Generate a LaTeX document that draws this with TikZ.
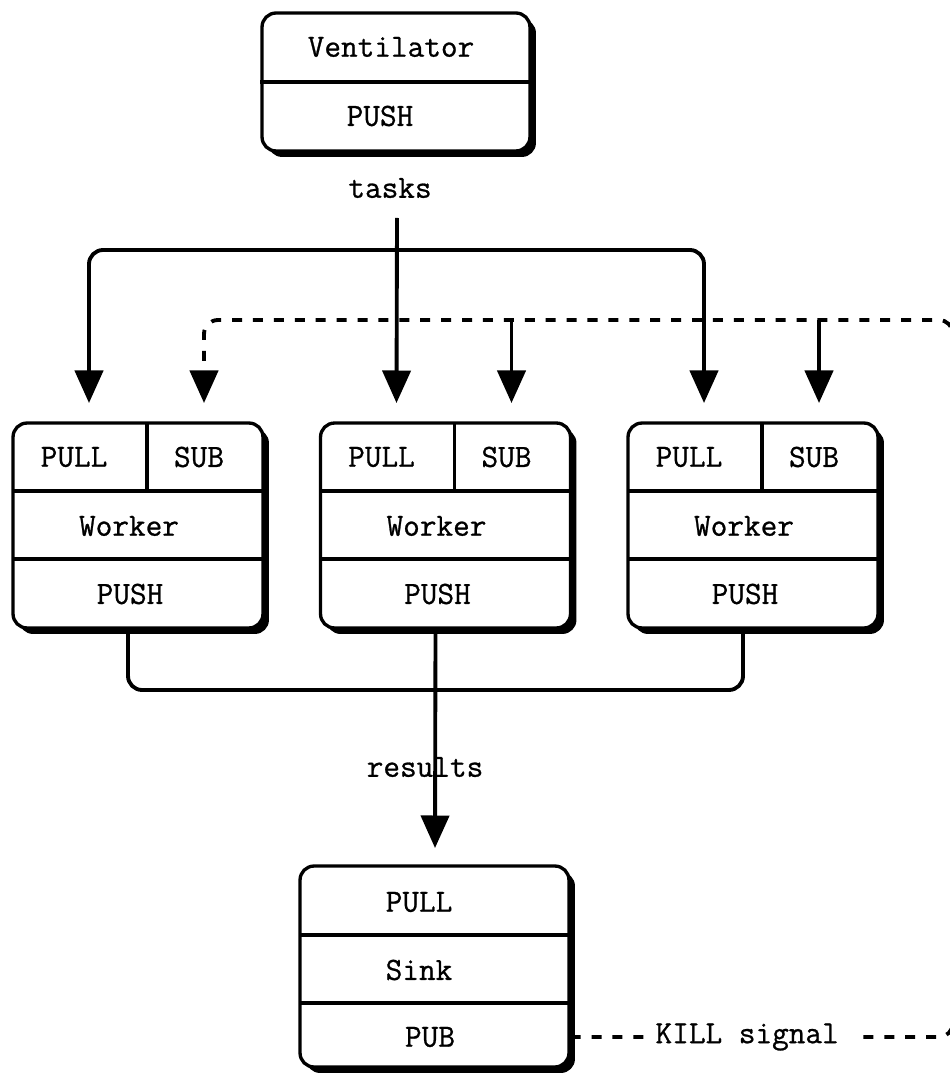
\documentclass[tikz,border=0pt]{standalone}
\usepackage{fontspec}
\setmonofont{Latin Modern Mono}[FakeBold=0.8]
\usetikzlibrary{arrows.meta,shadows}

\tikzset{
	zbox/.style={draw,line width=1.9pt,rounded corners=8pt,fill=white,
		drop shadow={shadow xshift=3.4pt,shadow yshift=-3.4pt,fill=black,opacity=1}},
	txt/.style={font=\fontsize{18.4}{22}\selectfont\ttfamily,inner sep=0pt},
	sep/.style={line width=1.8pt},
	flow/.style={line width=2.2pt,-{Triangle[width=16pt,length=18.5pt]}},
	wire/.style={line width=2.2pt,rounded corners=8pt},
	sig/.style={line width=2.2pt,dash pattern=on 5.7pt off 6.2pt,rounded corners=8pt},
}

\begin{document}
\begin{tikzpicture}[x=0.02cm,y=-0.02cm]
		\useasboundingbox (0,0) rectangle (949,1077);
		% ventilator
		\node[zbox,minimum width=5.36cm,minimum height=2.76cm] (vent) at (396,82) {};
		\draw[sep] (vent.west) -- (vent.east);
		\node[txt] (vent-name) at (391,47) {Ventilator};
		\node[txt] (vent-push) at (380,116) {PUSH};
		\node[txt] (tasks) at (390,188) {tasks};
		\coordinate (tasks-out) at (397,218);
		\coordinate (hub) at (397,250);
		% workers
		\foreach \i/\l in {1/13,2/320.5,3/628} {
			\node[zbox,minimum width=5cm,minimum height=4.1cm] (w\i) at (\l+125,525.5) {};
			\draw[sep] (\l,491) -- (\l+250,491);
			\draw[sep] (\l,559) -- (\l+250,559);
			\draw[sep] (\l+134,423) -- (\l+134,491);
			\node[txt] (w\i-pull) at (\l+61,457) {PULL};
			\node[txt] (w\i-sub) at (\l+186,457) {SUB};
			\node[txt] (w\i-name) at (\l+116,526) {Worker};
			\node[txt] (w\i-push) at (\l+117,594) {PUSH};
			\coordinate (w\i-pin) at (\l+76,403);
			\coordinate (w\i-sin) at (\l+191,403);
			\coordinate (w\i-out) at (\l+115,628);
		}
		% sink
		\node[zbox,minimum width=5.38cm,minimum height=4.02cm] (sink) at (434.5,966.5) {};
		\draw[sep] (300,935) -- (569,935);
		\draw[sep] (300,1003) -- (569,1003);
		\node[txt] (sink-pull) at (419,902) {PULL};
		\node[txt] (sink-name) at (419,970) {Sink};
		\node[txt] (sink-pub) at (430,1037) {PUB};
		\coordinate (sink-in) at (435,848);
		\coordinate (merge) at (435,690);
		\node[txt] (results) at (425,767) {results};
		% tasks
		\draw[flow] (tasks-out) -- (w2-pin);
		\draw[wire,{Triangle[width=16pt,length=18.5pt]}-{Triangle[width=16pt,length=18.5pt]}] (w1-pin) |- (hub) -| (w3-pin);
		% results
		\draw[wire] (w1-out) |- (merge) -| (w3-out);
		\draw[flow] (w2-out) -- (sink-in);
		% kill signal
		\coordinate (kr) at (953,1037);
		\coordinate (kt) at (953,320);
		\draw[sig,-{Triangle[width=16pt,length=18.5pt]}] (sink.east |- sink-pub) -- node[txt,pos=0.48,fill=white,inner ysep=1.5pt,inner xsep=1pt] (kill) {KILL signal\kern8pt} (kr) -- (kt) -- (w1-sin |- kt) -- (w1-sin);
		\draw[flow] (w2-sin |- kt) -- (w2-sin);
		\draw[flow] (w3-sin |- kt) -- (w3-sin);
	\end{tikzpicture}
\end{document}
